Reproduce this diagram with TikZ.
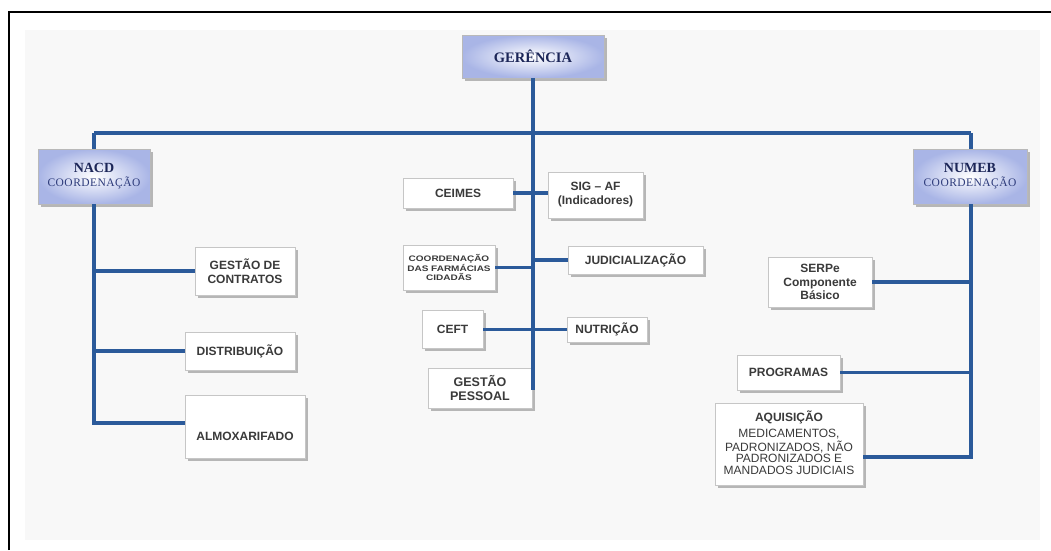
\documentclass[tikz,border=0pt]{standalone}
\usepackage{fontspec}
\setmainfont{Liberation Serif}
\newfontfamily\bxf{Liberation Sans}
\newfontfamily\bxwide[FakeStretch=1.25]{Liberation Sans}
\newfontfamily\subf[LetterSpace=4]{Liberation Serif}
\usetikzlibrary{shadows}
\definecolor{linec}{HTML}{2B5A9A}
\definecolor{boxtext}{HTML}{3A3A3A}
\definecolor{headtext}{HTML}{1C2658}
\definecolor{subtext}{HTML}{2C3A7A}
\definecolor{headblue}{HTML}{A9B5E6}
\definecolor{bgc}{HTML}{F8F8F8}
\tikzset{
  conn/.style={draw=linec, line width=3.2pt},
  shd/.style={drop shadow={shadow xshift=2.5pt, shadow yshift=-2.5pt, opacity=0.45, fill=black!60}},
  wbox/.style={shd, draw=gray!45, fill=white, line width=0.6pt, inner sep=0pt, align=center,
    font=\bxf\bfseries\fontsize{12}{14}\selectfont, text=boxtext},
  hbox/.style={shd, draw=gray!55, line width=0.6pt, inner color=white, outer color=headblue,
    inner sep=0pt, align=center, text=headtext},
  sz/.style 2 args={minimum width=#1pt, minimum height=#2pt},
}
\begin{document}
\begin{tikzpicture}[x=1pt,y=-1pt]
\useasboundingbox (0,0) rectangle (1051,550);
\fill[bgc] (25,30) rectangle (1040,540);
\draw[black, line width=2.5pt] (9,550) -- (9,12) -- (1051,12);

% header boxes
\node[hbox, sz={142}{43}] (ger) at (533,56.5) {\fontsize{14.5}{16}\selectfont\bfseries GERÊNCIA};
\node[hbox, sz={112}{55}] (nacd) at (94,176.5) {\fontsize{14}{16}\selectfont\bfseries NACD\\[2pt]{\subf\fontsize{11.5}{13}\selectfont\color{subtext}COORDENAÇÃO}};
\node[hbox, sz={114}{55}] (numeb) at (970,176.5) {\fontsize{14}{16}\selectfont\bfseries NUMEB\\[2pt]{\subf\fontsize{11.5}{13}\selectfont\color{subtext}COORDENAÇÃO}};

% left column
\node[wbox, sz={100}{48}] (gc) at (245,271) {GESTÃO DE\\CONTRATOS};
\node[wbox, sz={110}{38}] (dist) at (240,351) {DISTRIBUIÇÃO};
\node[wbox, sz={120}{63}] (almox) at (245,426.5) {\rule{0pt}{28pt}ALMOXARIFADO};

% centre column
\node[wbox, sz={110}{30}] (ceimes) at (458,193) {CEIMES};
\node[wbox, sz={95}{46}] (sig) at (595.5,195) {SIG – AF\\(Indicadores)};
\node[wbox, sz={92}{45}, font=\bxwide\bfseries\fontsize{8}{8.5}\selectfont] (cfc) at (449,267.5) {COORDENAÇÃO\\DAS FARMÁCIAS\\CIDADÃS};
\node[wbox, sz={135}{28}] (jud) at (635.5,260) {JUDICIALIZAÇÃO};
\node[wbox, sz={61}{38}] (ceft) at (452.5,329.5) {CEFT};
\node[wbox, sz={80}{25}] (nut) at (607,329.5) {NUTRIÇÃO};
\node[wbox, sz={104}{40}, font=\bxf\bfseries\fontsize{12.5}{14}\selectfont] (gp) at (480,388) {GESTÃO\\PESSOAL};

% right column
\node[wbox, sz={104}{50}, font=\bxf\bfseries\fontsize{12}{13.5}\selectfont] (serp) at (820,282) {SERPe\\Componente\\Básico};
\node[wbox, sz={103}{35}] (prog) at (788.5,372.5) {PROGRAMAS};
\node[wbox, sz={148}{82}] (aq) at (789,444) {AQUISIÇÃO\\[4pt]\mdseries\fontsize{12}{10.5}\selectfont\begin{tabular}{@{}c@{}}MEDICAMENTOS,\\PADRONIZADOS, NÃO\\PADRONIZADOS E\\MANDADOS JUDICIAIS\end{tabular}};

% coordinates
\coordinate (spineEnd) at (533,390);
\coordinate (busL) at (94,133);
\coordinate (busR) at (971,133);
\coordinate (nacdEnd) at (94,423);
\coordinate (numebEnd) at (971,457);

% connectors
\draw[conn] (ger.south) -- (spineEnd);
\draw[conn] (busL) -- (busR);
\draw[conn] (busL) -- (nacd.north);
\draw[conn] (busR) -- (numeb.north -| busR);

\draw[conn] (nacd.south) -- (nacdEnd) -- (almox.west |- nacdEnd);
\draw[conn] (nacd.south |- gc.west) -- (gc.west);
\draw[conn] (nacd.south |- dist.west) -- (dist.west);

\draw[conn] (ceimes.east) -- (sig.west |- ceimes.east);
\draw[conn] (cfc.east) -- (spineEnd |- cfc.east);
\draw[conn] (spineEnd |- jud.west) -- (jud.west);
\draw[conn] (ceft.east) -- (nut.west);

\draw[conn] (numeb.south -| busR) -- (numebEnd) -- (aq.east |- numebEnd);
\draw[conn] (serp.east) -- (busR |- serp.east);
\draw[conn] (prog.east) -- (busR |- prog.east);
\end{tikzpicture}
\end{document}
